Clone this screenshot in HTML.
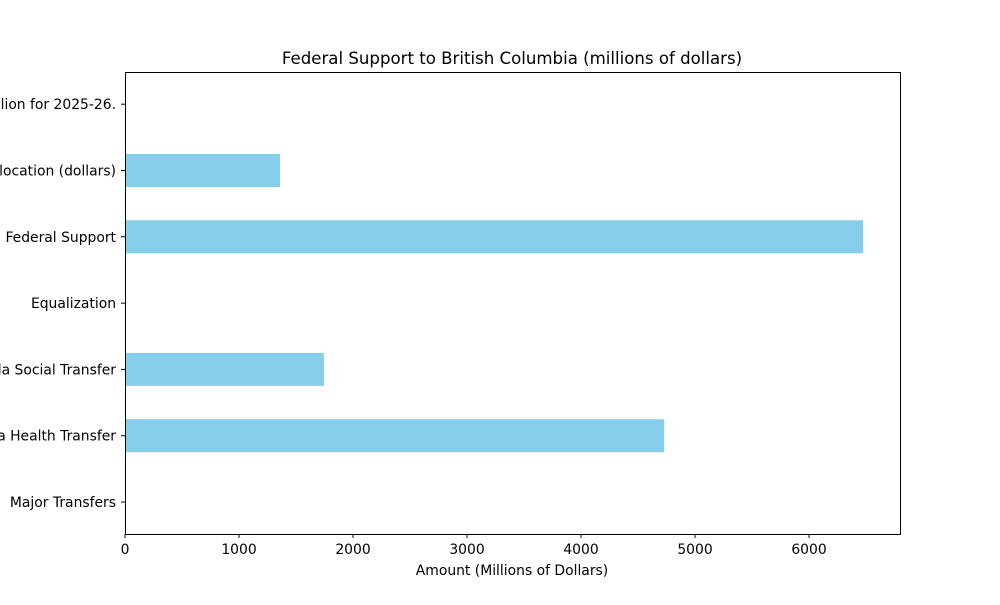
<!DOCTYPE html>
<html><head><meta charset="utf-8"><style>
body{margin:0;background:#fff;font-family:"Liberation Sans","DejaVu Sans",sans-serif}
svg text{font-family:"DejaVu Sans","Liberation Sans",sans-serif}
</style></head><body>
<svg id="chart" width="1000" height="600">
<text x="512" y="64" font-size="16.6" text-anchor="middle">Federal Support to British Columbia (millions of dollars)</text>
<g id="bars"></g><g id="xt"></g><g id="yt"></g>
<rect x="125.5" y="72.5" width="775" height="462" fill="none" stroke="#000" stroke-width="1"/>
<text x="512" y="575" font-size="13.9" text-anchor="middle">Amount (Millions of Dollars)</text>
</svg>
<script>
const categories=["Major Transfers","Canada Health Transfer","Canada Social Transfer","Equalization","Total Federal Support","Per Capita Allocation (dollars)","Note: Total federal support is $6.5 billion for 2025-26."];
const values=[0,4730,1745,0,6475,1360,0];
const xTicks=[0,1000,2000,3000,4000,5000,6000];
const NS="http://www.w3.org/2000/svg";
const x0=125,x1=900,xMax=6798;
const X=v=>x0+(v/xMax)*(x1-x0);
const Y=i=>502-i*66.3;
function mk(t,a,p){const e=document.createElementNS(NS,t);for(const k in a)e.setAttribute(k,a[k]);p.appendChild(e);return e;}
const bars=document.getElementById('bars'),xt=document.getElementById('xt'),yt=document.getElementById('yt');
values.forEach((v,i)=>{
 const r=mk('rect',{x:X(0),y:Y(i)-16.5,width:X(v)-X(0),height:33,fill:'#87ceeb'},bars);
 
 
});
xTicks.forEach(t=>{
 mk('line',{x1:X(t),x2:X(t),y1:534,y2:538,stroke:'#000'},xt);
 const tx=mk('text',{x:X(t),y:554,'font-size':13.9,'text-anchor':'middle'},xt);
 tx.textContent=t;
 
 
});
categories.forEach((c,i)=>{
 mk('line',{x1:121,x2:125,y1:Y(i),y2:Y(i),stroke:'#000'},yt);
 const tx=mk('text',{x:116,y:Y(i)+5,'font-size':13.9,'text-anchor':'end'},yt);
 tx.textContent=c;
 
 
});
</script>
</body></html>
